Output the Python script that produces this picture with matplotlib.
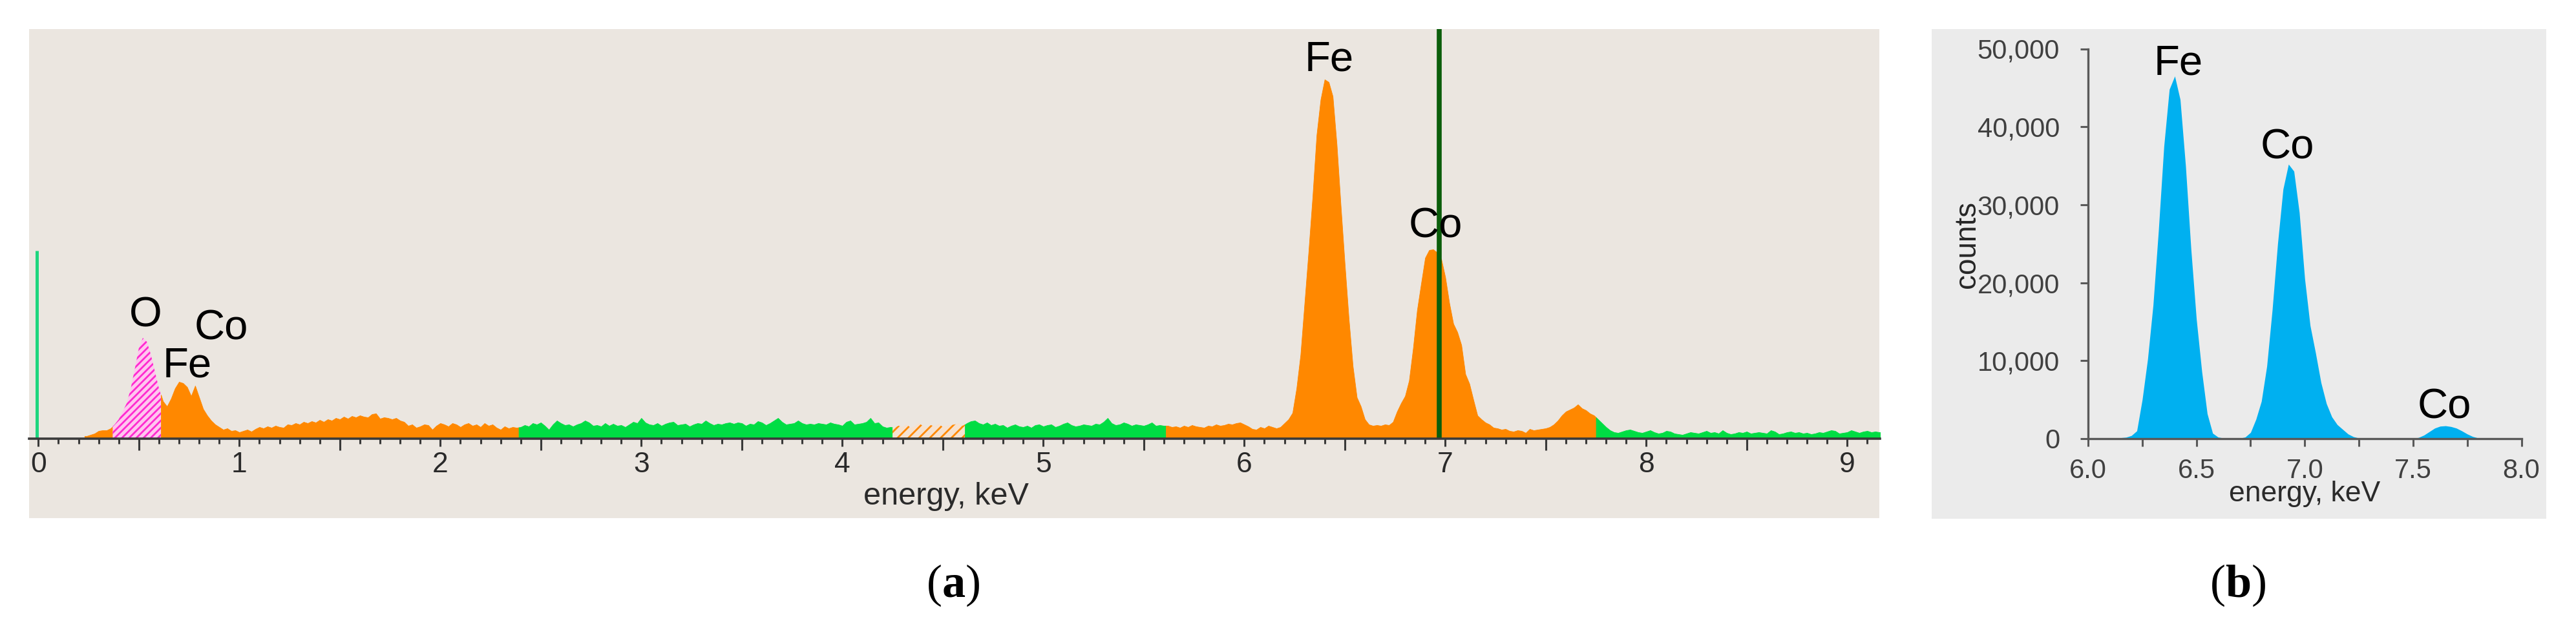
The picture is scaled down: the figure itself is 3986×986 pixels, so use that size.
import numpy as np
import matplotlib
matplotlib.use("Agg")
import matplotlib.pyplot as plt
from matplotlib.patches import Rectangle
from matplotlib.ticker import MultipleLocator, FixedLocator, NullLocator, FuncFormatter, StrMethodFormatter

plt.rcParams['font.family'] = ['Liberation Sans', 'DejaVu Sans']
plt.rcParams['mathtext.fontset'] = 'custom'
plt.rcParams['mathtext.rm'] = 'Liberation Serif'
plt.rcParams['mathtext.bf'] = 'Liberation Serif:bold'
plt.rcParams['hatch.linewidth'] = 2.0

# ---------------- data: panel (a) EDS spectrum (0.02 keV channels, arbitrary counts) ----------------
STEP_A = 0.02
bg_low_start = 0.24
bg_low = [4, 6, 8, 12, 13, 13, 16]
o_k_start = 0.38
o_k = [22, 30, 42, 55, 78, 108, 140, 156, 150, 130, 104, 78]
l_lines_start = 0.62
l_lines = [58, 50, 62, 78, 88, 86, 80, 66, 82, 64,
           46, 36, 28, 22, 18, 14, 16, 12, 13, 10,
           12, 14, 11, 15, 18, 16, 19, 17, 20, 18,
           17, 22, 21, 24, 22, 26, 24, 27, 25, 29,
           26, 30, 28, 32, 30, 34, 31, 35, 33, 36,
           34, 33, 38, 39, 31, 33, 32, 30, 32, 28,
           26, 20, 22, 17, 19, 22, 21, 14, 20, 24,
           22, 19, 24, 22, 18, 22, 24, 20, 22, 18,
           24, 20, 22, 17, 14, 19, 16, 18, 17]
bg_mid1_start = 2.40
bg_mid1 = [18, 21, 19, 24, 22, 25, 20, 14, 22, 28,
           24, 21, 22, 19, 22, 24, 28, 25, 20, 21,
           19, 24, 20, 23, 20, 21, 18, 22, 26, 24,
           32, 25, 22, 21, 24, 20, 23, 25, 26, 21,
           22, 23, 19, 22, 24, 23, 28, 24, 21, 23,
           22, 24, 25, 23, 25, 24, 20, 23, 22, 27,
           25, 21, 24, 28, 32, 26, 22, 23, 24, 28,
           24, 22, 23, 22, 24, 23, 22, 25, 23, 22,
           20, 26, 28, 22, 23, 24, 26, 32, 24, 25,
           19, 17, 18]
hatched_start = 4.26
hatched = [17, 20, 18, 22, 17, 19, 24, 20, 18, 21, 19, 23, 18, 20, 21, 22, 24, 20]
bg_mid2_start = 4.62
bg_mid2 = [24, 27, 28, 24, 22, 25, 21, 23, 20, 21,
           17, 20, 22, 19, 18, 20, 17, 21, 22, 19,
           21, 22, 18, 20, 23, 25, 21, 19, 20, 22,
           21, 20, 23, 22, 26, 32, 24, 21, 22, 25,
           23, 20, 22, 21, 20, 22, 25, 20, 21, 20]
k_lines_start = 5.62
k_lines = [20, 18, 19, 17, 20, 18, 21, 19, 18, 17,
           20, 19, 22, 20, 21, 23, 22, 24, 25, 22,
           19, 15, 14, 18, 16, 20, 18, 16, 18, 24,
           30, 40, 78, 130, 210, 290, 375, 470, 525, 556,
           552, 530, 455, 360, 270, 185, 112, 64, 50, 30,
           22, 20, 21, 20, 22, 21, 26, 42, 55, 66,
           90, 140, 199, 240, 280, 292, 293, 288, 278, 250,
           210, 178, 165, 145, 100, 85, 60, 36, 30, 25,
           22, 17, 16, 14, 15, 12, 11, 13, 12, 9,
           15, 13, 14, 15, 16, 18, 22, 28, 36, 42,
           45, 48, 53, 47, 44, 39, 36]
bg_high_start = 7.76
bg_high = [30, 24, 18, 13, 10, 9, 11, 13, 14, 12,
           10, 9, 11, 13, 10, 8, 9, 12, 11, 8,
           7, 6, 8, 10, 9, 8, 10, 12, 9, 10,
           8, 13, 9, 7, 8, 10, 9, 11, 8, 9,
           10, 9, 8, 13, 11, 7, 8, 10, 11, 9,
           10, 8, 9, 7, 8, 10, 9, 11, 13, 12,
           8, 9, 10, 13, 11, 9, 11, 12, 10, 11,
           10]
zero_peak_energy = -0.008
zero_peak_height = 291
marker_energy = 6.97
labels_a = ["O", "Fe", "Co", "Fe", "Co"]
labels_a_x = [0.534, 0.740, 0.911, 6.424, 6.951]
labels_a_y = [173, 96, 154, 569, 312]
ticks_a = [0, 1, 2, 3, 4, 5, 6, 7, 8, 9]

# ---------------- data: panel (b) fitted K-line spectrum ----------------
STEP_B = 0.025
energy_b_start = 6.0
counts_b = [0, 0, 20, 40, 60, 100, 120, 180, 400, 1000,
            5000, 10200, 17100, 26700, 37500, 44800, 46500, 43500, 35000, 24300,
            15300, 8600, 3200, 700, 200, 80, 40, 30, 60, 200,
            800, 2500, 4800, 9300, 16500, 25000, 32000, 35200, 34300, 29000,
            20500, 14500, 11000, 7200, 4500, 2800, 1800, 1200, 600, 250,
            80, 20, 0, 0, 0, 0, 0, 0, 0, 10,
            40, 150, 450, 900, 1350, 1600, 1650, 1550, 1350, 1000,
            600, 280, 90, 20, 0, 0, 0, 0, 0, 0,
            0]
labels_b = ["Fe", "Co", "Co"]
labels_b_x = [6.418, 6.921, 7.645]
labels_b_y = [46700, 35950, 2570]
yticks_b = [0, 10000, 20000, 30000, 40000, 50000]
xticks_b = [6.0, 6.5, 7.0, 7.5, 8.0]

# ---------------- styling ----------------
W, H = 3986, 986
fig = plt.figure(figsize=(W / 100, H / 100), dpi=100)
fig.patch.set_facecolor('white')

def fx(px):
    return px / W

def fy(py):
    return 1 - py / H

ORANGE = '#ff8800'
GREEN = '#00dd44'
PINK = '#ff2ad0'
BG_A = '#ebe6e0'
BG_B = '#ebebeb'
AX_DARK = '#3a3a3a'

# panel backgrounds (drawn below the axes)
fig.patches.append(Rectangle((fx(45), fy(802)), fx(2908) - fx(45), fy(45) - fy(802),
                             transform=fig.transFigure, facecolor=BG_A, edgecolor='none', zorder=-5))
fig.patches.append(Rectangle((fx(2989), fy(803)), fx(3940) - fx(2989), fy(45) - fy(803),
                             transform=fig.transFigure, facecolor=BG_B, edgecolor='none', zorder=-5))

# ---------------- panel (a) ----------------
axA = fig.add_axes([fx(45), fy(679), fx(2909) - fx(45), fy(45) - fy(679)])
axA.set_facecolor('none')
axA.set_xlim(-0.046, 9.163)
axA.set_ylim(0, 634)

styles = {
    'orange': dict(facecolor=ORANGE, edgecolor=ORANGE, linewidth=0.6),
    'green': dict(facecolor=GREEN, edgecolor=GREEN, linewidth=0.6),
    'pink': dict(facecolor='#ffc6ef', edgecolor=PINK, hatch='///', linewidth=0),
    'ohatch': dict(facecolor='#f6e2d0', edgecolor=ORANGE, hatch='//', linewidth=0),
}
segments = [
    (bg_low_start, bg_low, 'orange'),
    (o_k_start, o_k, 'pink'),
    (l_lines_start, l_lines, 'orange'),
    (bg_mid1_start, bg_mid1, 'green'),
    (hatched_start, hatched, 'ohatch'),
    (bg_mid2_start, bg_mid2, 'green'),
    (k_lines_start, k_lines, 'orange'),
    (bg_high_start, bg_high, 'green'),
]
seg_energy = [start + STEP_A * np.arange(len(vals)) for start, vals, _ in segments]
all_e = np.concatenate(seg_energy)
all_c = np.concatenate([np.asarray(v, float) for _, v, _ in segments])
for (start, vals, st), e in zip(segments, seg_energy):
    xs = np.concatenate([[e[0] - STEP_A / 2], e, [e[-1] + STEP_A / 2]])
    ys = np.interp(xs, all_e, all_c)
    axA.fill_between(xs, 0, ys, zorder=2, **styles[st])

axA.vlines(zero_peak_energy, 0, zero_peak_height, color='#1fd67f', lw=3.6, zorder=3)
axA.axvline(marker_energy, color='#0b5e0b', lw=5.5, zorder=4)

for t, x, y in zip(labels_a, labels_a_x, labels_a_y):
    axA.text(x, y, t, fontsize=47, ha='center', va='baseline', color='black', zorder=5)

for s in ['left', 'right', 'top']:
    axA.spines[s].set_visible(False)
axA.spines['bottom'].set_color(AX_DARK)
axA.spines['bottom'].set_linewidth(2.6)
axA.spines['bottom'].set_zorder(6)
axA.yaxis.set_visible(False)
axA.xaxis.set_major_locator(FixedLocator(ticks_a))
axA.xaxis.set_minor_locator(MultipleLocator(0.1))
axA.tick_params(axis='x', which='major', direction='out', length=8.6, width=2.2,
                color=AX_DARK, labelsize=32, labelcolor='#2a2a2a', pad=6)
axA.tick_params(axis='x', which='minor', direction='out', length=5.8, width=2.2, color=AX_DARK)

sec = axA.secondary_xaxis('bottom')
sec.xaxis.set_major_locator(FixedLocator([0.5 + i for i in range(9)]))
sec.xaxis.set_minor_locator(NullLocator())
sec.xaxis.set_major_formatter(FuncFormatter(lambda v, p: ''))
sec.tick_params(axis='x', direction='out', length=13, width=2.2, color=AX_DARK)
sec.spines['bottom'].set_visible(False)

fig.text(fx(1464), fy(781), 'energy, keV', fontsize=35, ha='center', va='baseline', color='#2a2a2a')

# ---------------- panel (b) ----------------
axB = fig.add_axes([fx(3231), fy(679), fx(3901.5) - fx(3231), fy(75.5) - fy(679)])
axB.set_facecolor('none')
energy_b = energy_b_start + STEP_B * np.arange(len(counts_b))
axB.fill_between(energy_b, 0, counts_b, color='#00b0f0', linewidth=0, zorder=2)
axB.set_xlim(6.0, 8.0)
axB.set_ylim(0, 50000)
for t, x, y in zip(labels_b, labels_b_x, labels_b_y):
    axB.text(x, y, t, fontsize=47, ha='center', va='baseline', color='black', zorder=5)

for s in ['right', 'top']:
    axB.spines[s].set_visible(False)
for s in ['left', 'bottom']:
    axB.spines[s].set_color('#595959')
    axB.spines[s].set_linewidth(2.4)
axB.xaxis.set_major_locator(FixedLocator(xticks_b))
axB.xaxis.set_major_formatter(StrMethodFormatter('{x:.1f}'))
axB.xaxis.set_minor_locator(MultipleLocator(0.25))
axB.yaxis.set_major_locator(FixedLocator(yticks_b))
axB.yaxis.set_major_formatter(StrMethodFormatter('{x:,.0f}'))
axB.tick_params(axis='x', which='both', direction='out', length=8.6, width=2.2, color='#595959',
                labelsize=30, labelcolor='#404040', pad=13)
axB.tick_params(axis='y', which='major', direction='out', length=8.6, width=2.2, color='#595959',
                labelsize=30, labelcolor='#404040', pad=23)

fig.text(fx(3056), fy(379), 'counts', fontsize=33, rotation=90, rotation_mode='anchor',
         ha='center', va='baseline', color='#262626')
fig.text(fx(3566), fy(776), 'energy, keV', fontsize=32, ha='center', va='baseline', color='#2a2a2a')

# ---------------- captions ----------------
fig.text(fx(1475), fy(924), r'($\mathbf{a}$)', fontsize=52, ha='center', va='baseline',
         family='Liberation Serif', color='black')
fig.text(fx(3463), fy(924), r'($\mathbf{b}$)', fontsize=52, ha='center', va='baseline',
         family='Liberation Serif', color='black')

fig.savefig('out.png', dpi=100, facecolor='white')
